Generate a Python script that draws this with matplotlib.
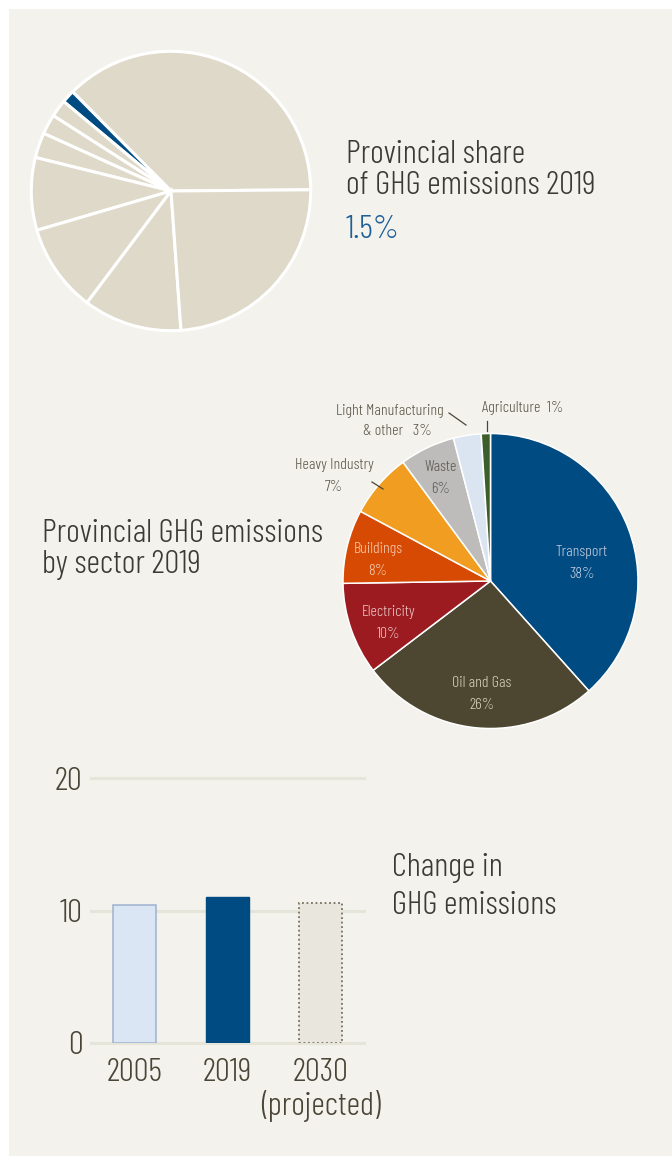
import numpy as np
import matplotlib.pyplot as plt
from matplotlib.patches import Rectangle
from matplotlib.lines import Line2D

W, H = 672, 1157

# provincial share of national GHG emissions, 2019 (%)
provinces = ["Alberta", "Newfoundland and Labrador", "New Brunswick", "Nova Scotia",
             "Manitoba", "British Columbia", "Saskatchewan", "Quebec", "Ontario"]
province_share = [37.3, 1.5, 2.0, 2.3, 2.9, 8.4, 10.2, 11.4, 24.0]
highlight = "Newfoundland and Labrador"

# emissions by sector, 2019 (%)
sectors = ["Transport", "Oil and Gas", "Electricity", "Buildings",
           "Heavy Industry", "Waste", "Light Manufacturing & other", "Agriculture"]
sector_share = [38, 26, 10, 8, 7, 6, 3, 1]
sector_colors = ["#004b81", "#4d4731", "#9b1b20", "#d64a04",
                 "#f19d22", "#bdbcba", "#dbe5f2", "#3c5e2a"]

# total emissions (Mt CO2e)
years = ["2005", "2019", "2030\n(projected)"]
totals = [10.4, 11.0, 10.6]
yticks = [0, 10, 20]

TXT = "#3b3a33"
LBL = "#5b5748"
BLUE = "#004b81"
BG = "#f3f2ed"
plt.rcParams["font.family"] = ["Barlow Condensed", "DejaVu Sans"]
plt.rcParams["font.weight"] = 300


def fx(x):
    return x / W


def fy(y):
    return 1 - y / H


def px_axes(cx, cy, r):
    ax = fig.add_axes([fx(cx - r), fy(cy + r), 2 * r / W, 2 * r / H])
    ax.set_facecolor("none")
    return ax


fig = plt.figure(figsize=(W / 100, H / 100), dpi=100, facecolor="white")
fig.patches.append(Rectangle((fx(9), fy(1156)), fx(672) - fx(9), fy(9) - fy(1156),
                             transform=fig.transFigure, facecolor=BG, edgecolor="none", zorder=-10))

# --- provincial share pie ---
ax1 = px_axes(171, 191, 142.5)
cols = [BLUE if p == highlight else "#ded9c8" for p in provinces]
ax1.pie(province_share, colors=cols, startangle=0.5, counterclock=True, radius=1,
        wedgeprops=dict(edgecolor="white", linewidth=2.2))
ax1.set_xlim(-1.02, 1.02)
ax1.set_ylim(-1.02, 1.02)
ax1.set_aspect("equal")

fig.text(fx(346), fy(194), "Provincial share\nof GHG emissions 2019", fontsize=24,
         color=TXT, ha="left", va="baseline", linespacing=1.03)
hi = province_share[provinces.index(highlight)]
fig.text(fx(346), fy(238), f"{hi}%", fontsize=24, color="#1f5f96", ha="left", va="baseline")

# --- sector pie ---
ax2 = px_axes(490.5, 581, 147.5)
ax2.pie(sector_share, colors=sector_colors, startangle=90, counterclock=False, radius=1,
        wedgeprops=dict(edgecolor="white", linewidth=1.1))
ax2.set_xlim(-1.0, 1.0)
ax2.set_ylim(-1.0, 1.0)
ax2.set_aspect("equal")

fig.text(fx(42), fy(573), "Provincial GHG emissions\nby sector 2019", fontsize=24,
         color=TXT, ha="left", va="baseline", linespacing=1.03)

inside = {
    "Transport": ((582, 552), "#c3cde0"),
    "Oil and Gas": ((482, 683), "#d6d1bd"),
    "Electricity": ((389, 612), "#ecc6c6"),
    "Buildings": ((378, 549), "#f7ccae"),
    "Waste": ((441, 467), "#5d5b52"),
}
for name, ((x, y), c) in inside.items():
    v = sector_share[sectors.index(name)]
    fig.text(fx(x), fy(y), name, fontsize=11.5, color=c, ha="center", va="center")
    fig.text(fx(x), fy(y + 22), f"{v}%", fontsize=11.5, color=c, ha="center", va="center")

v = sector_share[sectors.index("Heavy Industry")]
fig.text(fx(334), fy(465), "Heavy Industry", fontsize=11.5, color=LBL, ha="center", va="center")
fig.text(fx(334), fy(487), f"{v}%", fontsize=11.5, color=LBL, ha="center", va="center")
v = sector_share[sectors.index("Light Manufacturing & other")]
fig.text(fx(390), fy(411), "Light Manufacturing", fontsize=11.5, color=LBL, ha="center", va="center")
fig.text(fx(397), fy(431), f"& other   {v}%", fontsize=11.5, color=LBL, ha="center", va="center")
v = sector_share[sectors.index("Agriculture")]
fig.text(fx(523), fy(408), f"Agriculture  {v}%", fontsize=11.5, color=LBL, ha="center", va="center")

for (x0, y0), (x1, y1) in [((449, 413), (466, 425)), ((487, 421), (487, 431)),
                           ((372, 482), (383, 489))]:
    fig.add_artist(Line2D([fx(x0), fx(x1)], [fy(y0), fy(y1)], color="#4a4638", lw=0.9,
                          transform=fig.transFigure))

# --- totals bar chart ---
ax3 = fig.add_axes([fx(91), fy(1043), (364 - 91) / W, (1043 - 778) / H])
ax3.set_facecolor("none")
x = np.arange(len(years))
bars = ax3.bar(x, totals, width=0.46, zorder=3)
bars[0].set_facecolor("#dae6f3")
bars[0].set_edgecolor("#9fb2cf")
bars[0].set_linewidth(1.1)
bars[1].set_facecolor(BLUE)
bars[1].set_edgecolor(BLUE)
bars[2].set_facecolor("#e9e6de")
bars[2].set_edgecolor("#777060")
bars[2].set_linestyle((0, (1, 1.5)))
bars[2].set_linewidth(1.3)
ax3.set_xlim(-0.468, 2.468)
ax3.set_ylim(0, 20)
ax3.set_yticks(yticks)
ax3.set_xticks(x)
ax3.set_xticklabels(years)
for yv in yticks:
    ax3.axhline(yv, color="#e6e5da", lw=2.2, zorder=1, clip_on=False)
for s in ax3.spines.values():
    s.set_visible(False)
ax3.tick_params(length=0, labelsize=24, colors="#4a4536")
ax3.tick_params(axis="y", pad=6)
ax3.tick_params(axis="x", pad=11)
for t in ax3.get_xticklabels():
    t.set_linespacing(1.05)

fig.text(fx(392), fy(914), "Change in\nGHG emissions", fontsize=24, color=TXT,
         ha="left", va="baseline", linespacing=1.35)

fig.savefig("out.png", dpi=100, facecolor="white")
